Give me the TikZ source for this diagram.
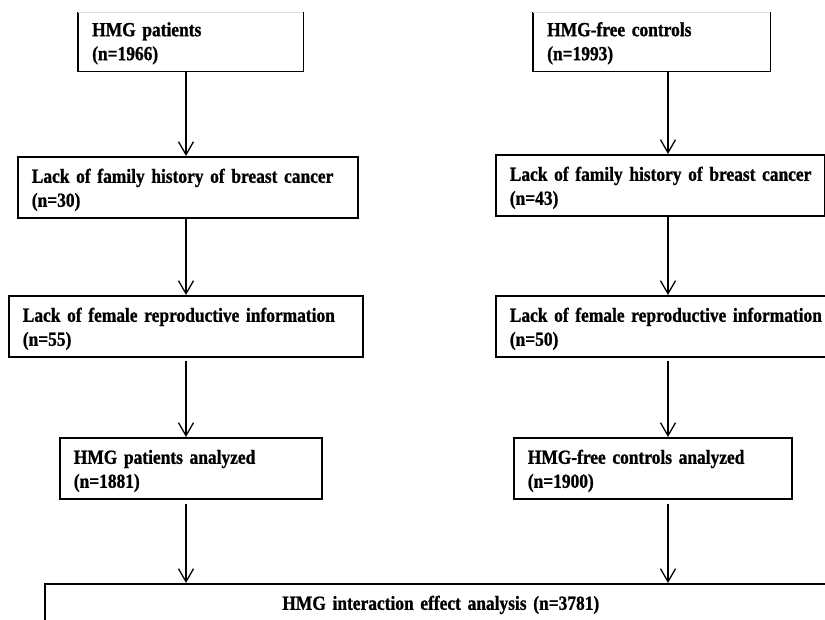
\documentclass[tikz,border=0pt]{standalone}
\usepackage{fontspec}
\setmainfont{Liberation Serif}[BoldFeatures={FakeStretch=0.87,FakeBold=1}]
\usetikzlibrary{arrows.meta}
\tikzset{
  boxline/.style={line width=1.6pt, black},
  flowbox/.style={anchor=north west, inner xsep=14pt, inner ysep=0pt,
    align=left, text height=26pt, text depth=35pt,
    font=\bfseries\fontsize{20}{24}\selectfont},
  flowarrow/.style={line width=1.3pt, -{Straight Barb[length=13pt,width=15pt,line width=1.3pt]}}
}
\begin{document}
\begin{tikzpicture}[x=1pt,y=-1pt]
\useasboundingbox (0,0) rectangle (825,619);
\clip (0,0) rectangle (825,619);
% top boxes (top edge cut off by the picture frame)
\node[flowbox, text width=197pt, text height=24pt] (b1) at (78,12) {HMG patients\\(n=1966)};
\node[flowbox, text width=209pt, text height=24pt] (b2) at (533,12) {HMG-free controls\\(n=1993)};
\draw[boxline] (b1.north west) -- (b1.south west) -- (b1.south east) -- (b1.north east);
\draw[boxline] (b2.north west) -- (b2.south west) -- (b2.south east) -- (b2.north east);
\draw[gray!25, line width=0.8pt] (b1.north west) -- (b1.north east);
\draw[gray!25, line width=0.8pt] (b2.north west) -- (b2.north east);
% second row
\node[flowbox, draw, boxline, text width=312pt] (b3) at (17,156) {\mbox{Lack of family history of breast cancer}\\(n=30)};
\node[flowbox, draw, boxline, text width=301pt] (b4) at (495,154) {\mbox{Lack of family history of breast cancer}\\(n=43)};
% third row
\node[flowbox, draw, boxline, text width=326pt] (b5) at (8,295) {\mbox{Lack of female reproductive information}\\(n=55)};
\node[flowbox, draw, boxline, text width=332pt] (b6) at (495,295) {\mbox{Lack of female reproductive information}\\(n=50)};
% fourth row
\node[flowbox, draw, boxline, text width=234pt] (b7) at (59,437) {HMG patients analyzed\\(n=1881)};
\node[flowbox, draw, boxline, text width=250pt] (b8) at (513,437) {HMG-free controls analyzed\\(n=1900)};
% bottom box
\node[flowbox, draw, boxline, text width=764pt, align=center, text height=26pt, text depth=30pt] (b9) at (44,583) {HMG interaction effect analysis (n=3781)};
% connectors
\coordinate (L) at (186,0);
\coordinate (R) at (668,0);
\draw[flowarrow] (b1.south -| L) -- (b3.north -| L);
\draw[flowarrow] (b3.south -| L) -- (b5.north -| L);
\draw[flowarrow] ([yshift=-3pt]b5.south -| L) -- (b7.north -| L);
\draw[flowarrow] ([yshift=-4pt]b7.south -| L) -- (b9.north -| L);
\draw[flowarrow] (b2.south -| R) -- (b4.north -| R);
\draw[flowarrow] (b4.south -| R) -- (b6.north -| R);
\draw[flowarrow] ([yshift=-3pt]b6.south -| R) -- (b8.north -| R);
\draw[flowarrow] ([yshift=-4pt]b8.south -| R) -- (b9.north -| R);
\end{tikzpicture}
\end{document}
